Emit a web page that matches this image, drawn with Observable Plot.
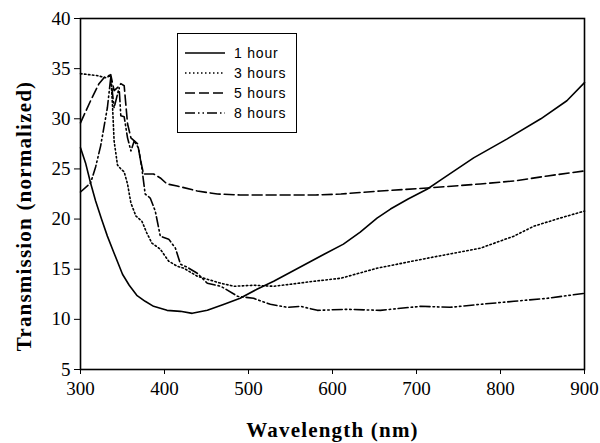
<!DOCTYPE html>
<html>
<head>
<meta charset="utf-8">
<script src="https://cdn.jsdelivr.net/npm/d3@7"></script>
<script src="https://cdn.jsdelivr.net/npm/@observablehq/plot@0.6"></script>
<style>
  html, body { margin: 0; padding: 0; background: #fff; }
  #wrap { position: relative; width: 600px; height: 443px; }
  #legend { position: absolute; left: 177px; top: 33px; width: 118px; height: 98px;
    border: 1.5px solid #000; background: #fff; }
  #legend .item { position: absolute; left: 0; height: 20px; width: 118px; }
  #legend svg { position: absolute; left: 7px; top: 0; }
  #legend span { position: absolute; left: 56px; top: 1px; font-family: "Liberation Sans", Arial, sans-serif;
    font-size: 14px; letter-spacing: 0.8px; color: #000; line-height: 18px; }
</style>
</head>
<body>
<div id="wrap"></div>
<script>
// ---- data ----
const seriesNames = ["1 hour", "3 hours", "5 hours", "8 hours"];
const seriesDash = ["none", "1.5,2.5", "10,4", "10,3,1.5,3,1.5,3"];

const wl1 = [300,306,312,318,325,332,340,350,358,367,377,387,403,419,433,451,471,490,510,530,550,570,590,613,633,653,669,690,713,729,768,808,848,879,900];
const t1  = [27.1,25.6,23.6,21.8,20.0,18.3,16.6,14.5,13.4,12.4,11.8,11.3,10.9,10.8,10.6,10.9,11.5,12.1,13.0,13.8,14.7,15.6,16.5,17.5,18.7,20.1,21.0,22.0,23.0,23.9,26.1,28.0,30.0,31.8,33.6];

const wl3 = [300,310,320,330,336,338,340,344,348,352,356,360,366,373,379,385,395,405,415,423,439,451,467,483,506,530,550,578,610,653,713,776,816,840,871,900];
const t3  = [34.5,34.4,34.3,34.1,34.3,31.5,27.8,25.4,25.0,24.7,23.5,21.6,20.3,19.8,18.6,17.6,17.0,15.8,15.3,15.1,14.3,14.0,13.6,13.3,13.4,13.3,13.5,13.8,14.1,15.1,16.1,17.1,18.3,19.3,20.1,20.8];

const wl5 = [300,306,312,322,328,336,340,344,348,352,356,360,364,368,371,375,381,387,395,403,415,439,463,490,510,550,580,610,657,713,776,816,856,900];
const t5  = [29.6,30.7,31.8,33.5,34.1,34.4,32.8,33.1,33.5,33.3,29.5,28.1,27.8,27.5,26.1,24.5,24.5,24.5,24.1,23.5,23.3,22.8,22.5,22.4,22.4,22.4,22.4,22.5,22.8,23.1,23.5,23.8,24.3,24.8];

const wl8 = [300,312,318,324,332,336,340,346,348,352,356,360,364,369,373,377,383,389,395,405,413,419,427,439,451,467,487,506,526,546,562,582,617,657,705,740,776,816,856,900];
const t8  = [22.7,23.6,25.2,27.3,31.1,34.1,31.1,33.1,30.3,30.2,28.1,26.8,27.8,27.1,25.1,22.5,22.1,20.8,18.3,18.0,17.1,15.5,15.2,14.6,13.6,13.3,12.3,12.1,11.5,11.2,11.3,10.9,11.0,10.9,11.3,11.2,11.5,11.8,12.1,12.6];

const xTicks = [300,400,500,600,700,800,900];
const yTicks = [5,10,15,20,25,30,35,40];
const xTitle = "Wavelength (nm)";
const yTitle = "Transmission (normalized)";

// ---- build ----
const allW = [wl1, wl3, wl5, wl8];
const allT = [t1, t3, t5, t8];
const tables = allW.map((w, i) => w.map((x, j) => ({x, y: allT[i][j], s: seriesNames[i]})));

const lineMarks = tables.map((tbl, i) => Plot.line(tbl, {
  x: "x", y: "y", stroke: "#000", strokeWidth: 1.6,
  strokeDasharray: seriesDash[i] === "none" ? undefined : seriesDash[i],
  strokeLinejoin: "round"
}));

const chart = Plot.plot({
  width: 600, height: 443,
  marginTop: 18, marginRight: 16, marginBottom: 74, marginLeft: 80,
  style: {fontFamily: "'Liberation Serif', 'Times New Roman', serif", fontSize: "19px", color: "#000", background: "#fff", overflow: "visible"},
  x: {domain: [300, 900]},
  y: {domain: [5, 40]},
  marks: [
    ...lineMarks,
    Plot.frame({stroke: "#000", strokeWidth: 1.6}),
    Plot.axisX({ticks: xTicks, tickSize: 5, tickPadding: 7, label: null, fontSize: 19, tickFormat: d => String(d)}),
    Plot.axisY({ticks: yTicks, tickSize: 6, tickPadding: 4, label: null, fontSize: 19, tickFormat: d => String(d)}),
    Plot.text([xTitle], {frameAnchor: "bottom", dy: 61, lineAnchor: "middle", textAnchor: "middle", fontWeight: "bold", fontSize: 21, text: d => d}),
    Plot.text([yTitle], {frameAnchor: "left", dx: -56, dy: 22, rotate: -90, textAnchor: "middle", lineAnchor: "middle", fontWeight: "bold", fontSize: 21, text: d => d})
  ]
});

chart.querySelectorAll("text").forEach(t => {
  if (t.textContent === xTitle || t.textContent === yTitle) t.setAttribute("letter-spacing", "1.2");
});

const wrap = document.getElementById("wrap");
wrap.appendChild(chart);

// legend
const legend = document.createElement("div");
legend.id = "legend";
seriesNames.forEach((name, i) => {
  const item = document.createElement("div");
  item.className = "item";
  item.style.top = (9 + i * 20) + "px";
  const svg = d3.create("svg").attr("width", 42).attr("height", 20);
  svg.append("line").attr("x1", 0).attr("x2", 40).attr("y1", 10).attr("y2", 10)
    .attr("stroke", "#000").attr("stroke-width", 1.6)
    .attr("stroke-dasharray", seriesDash[i] === "none" ? null : seriesDash[i]);
  item.appendChild(svg.node());
  const sp = document.createElement("span");
  sp.textContent = name;
  item.appendChild(sp);
  legend.appendChild(item);
});
wrap.appendChild(legend);
</script>
</body>
</html>
